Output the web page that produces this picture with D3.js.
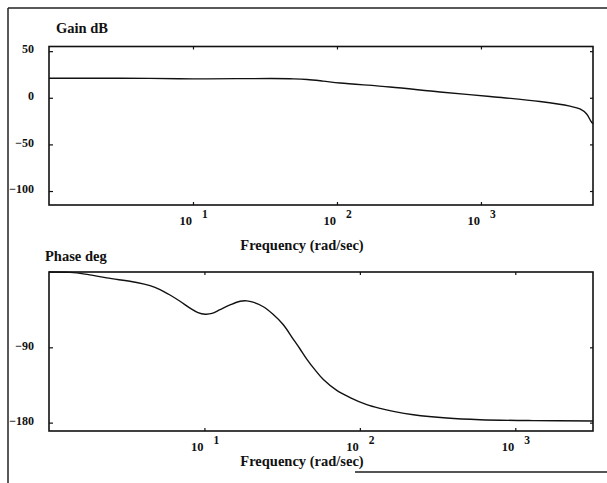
<!DOCTYPE html>
<html>
<head>
<meta charset="utf-8">
<script src="https://cdn.jsdelivr.net/npm/d3@7/dist/d3.min.js"></script>
<style>
  html, body { margin: 0; padding: 0; background: #fff; }
  svg { display: block; }
  text { font-family: "Liberation Serif", "Times New Roman", serif; font-weight: bold; fill: #111; }
</style>
</head>
<body>
<svg id="chart" width="607" height="483"></svg>
<script>
// Bode plot data: frequency (rad/sec) with gain (dB) and phase (deg)
const gainFreq = [1, 2, 5, 10, 20, 35, 50, 62, 80, 105, 233, 519, 1155, 2570, 4150, 4870, 5420, 5780, 6000];
const gainDb   = [21, 21, 20.8, 20.3, 20.5, 20.6, 20.3, 19.6, 17.9, 15.8, 11.6, 6.2, 1.4, -4, -9, -12, -17.4, -24.7, -28];

const phaseFreq = [1, 1.365, 1.705, 2.351, 3.667, 4.467, 5.18, 6.006, 6.966, 8.08, 9.094, 10.09, 11.19, 12.6, 14.61, 16.95, 18.72, 20.54, 23.93, 27.63, 32.19, 37.34, 41.23, 45.53, 51.48, 58.24, 71.03, 86.49, 110.8, 134.9, 164.3, 221, 362.5, 593.8, 1302, 3162];
const phaseDeg  = [0, -0.5, -2.5, -7, -12.5, -16.3, -21, -27.5, -35, -43.2, -48.5, -50.4, -49.5, -45, -39.4, -35, -34.5, -36, -41.5, -50.5, -63, -80.5, -92, -104, -117, -128.5, -141.5, -150, -158.5, -163, -166.5, -170.5, -174.5, -176.5, -177.6, -178];

const gainTicks  = [50, 0, -50, -100];
const phaseTicks = [-90, -180];
const decadeTicks = [10, 100, 1000];

const svg = d3.select("#chart");

// Outer frame around both panels
svg.append("line").attr("x1", 8).attr("y1", 8).attr("x2", 607).attr("y2", 8)
  .attr("stroke", "#222").attr("stroke-width", 1.5);
svg.append("line").attr("x1", 8).attr("y1", 8).attr("x2", 8).attr("y2", 483)
  .attr("stroke", "#222").attr("stroke-width", 1.5);
svg.append("line").attr("x1", 355).attr("y1", 472).attr("x2", 607).attr("y2", 472)
  .attr("stroke", "#555").attr("stroke-width", 2);

function panel(opts) {
  const x = d3.scaleLog().domain(opts.xDomain).range([49, 593]);
  const y = d3.scaleLinear().domain(opts.yDomain).range([opts.bottom, opts.top]);
  const g = svg.append("g");

  // plot box
  g.append("rect")
    .attr("x", 49).attr("y", opts.top)
    .attr("width", 593 - 49).attr("height", opts.bottom - opts.top)
    .attr("fill", "none").attr("stroke", "#111").attr("stroke-width", 1.6);

  // inward ticks on all four sides
  const left = g.append("g").attr("transform", "translate(49,0)")
    .call(d3.axisLeft(y).tickValues(opts.yTicks).tickSize(-4).tickPadding(15).tickFormat(d3.format("d")));
  left.select(".domain").remove();
  left.selectAll("line").attr("stroke", "#111").attr("stroke-width", 1.2);
  left.selectAll("text").attr("font-size", 12).attr("dy", "0.15em")
    .style("font-family", "'Liberation Serif', serif").style("font-weight", "bold");

  const right = g.append("g").attr("transform", "translate(593,0)")
    .call(d3.axisRight(y).tickValues(opts.yTicks).tickSize(-3).tickFormat(""));
  right.select(".domain").remove();
  right.selectAll("line").attr("stroke", "#111").attr("stroke-width", 1.2);

  const top = g.append("g").attr("transform", `translate(0,${opts.top})`)
    .call(d3.axisTop(x).tickValues(decadeTicks).tickSize(-3).tickFormat(""));
  top.select(".domain").remove();
  top.selectAll("line").attr("stroke", "#111").attr("stroke-width", 1.2);

  const bottom = g.append("g").attr("transform", `translate(0,${opts.bottom})`)
    .call(d3.axisBottom(x).tickValues(decadeTicks).tickSize(-3).tickFormat(""));
  bottom.select(".domain").remove();
  bottom.selectAll("line").attr("stroke", "#111").attr("stroke-width", 1.2);

  // decade labels: "10" with the exponent raised to the right
  decadeTicks.forEach(d => {
    const px = x(d);
    g.append("text").attr("x", px - 1).attr("y", opts.bottom + 20)
      .attr("text-anchor", "end").attr("font-size", 12.5).text("10");
    g.append("text").attr("x", px + 9).attr("y", opts.bottom + 13)
      .attr("font-size", 11.5).text(Math.round(Math.log10(d)));
  });

  // titles
  g.append("text").attr("x", opts.titleX).attr("y", opts.titleY)
    .attr("font-size", 14.5).text(opts.title);
  g.append("text").attr("x", 302).attr("y", opts.bottom + opts.xTitleGap)
    .attr("text-anchor", "middle").attr("font-size", 14.5).text("Frequency (rad/sec)");

  // response curve
  const line = d3.line()
    .x(d => x(d[0])).y(d => y(d[1]))
    .curve(d3.curveCatmullRom.alpha(0.5));
  g.append("path")
    .datum(d3.zip(opts.freq, opts.values))
    .attr("d", line)
    .attr("fill", "none").attr("stroke", "#111").attr("stroke-width", 1.4);
}

panel({
  xDomain: [1, 6000], yDomain: [-115, 55], top: 46.5, bottom: 205,
  yTicks: gainTicks, freq: gainFreq, values: gainDb,
  title: "Gain dB", titleX: 56, titleY: 33, xTitleGap: 45
});

panel({
  xDomain: [1, Math.pow(10, 3.5)], yDomain: [-190, 0], top: 272, bottom: 431,
  yTicks: phaseTicks, freq: phaseFreq, values: phaseDeg,
  title: "Phase deg", titleX: 45, titleY: 261, xTitleGap: 35
});
</script>
</body>
</html>
